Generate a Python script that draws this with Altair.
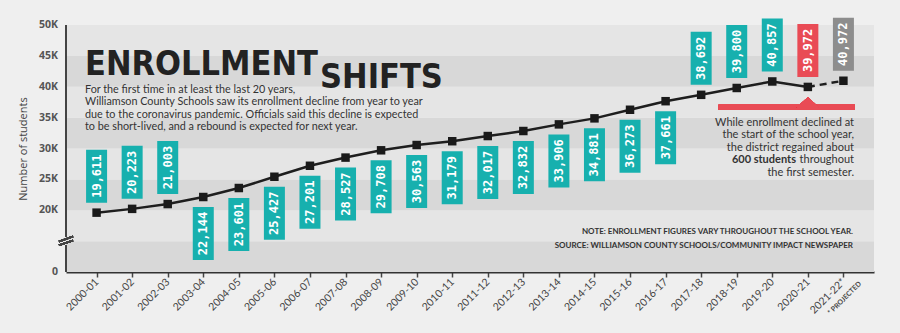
import altair as alt
import pandas as pd

years = ["2000-01", "2001-02", "2002-03", "2003-04", "2004-05", "2005-06", "2006-07",
         "2007-08", "2008-09", "2009-10", "2010-11", "2011-12", "2012-13", "2013-14",
         "2014-15", "2015-16", "2016-17", "2017-18", "2018-19", "2019-20", "2020-21",
         "2021-22*"]
enrollment = [19611, 20223, 21003, 22144, 23601, 25427, 27201, 28527, 29708, 30563,
              31179, 32017, 32832, 33906, 34881, 36273, 37661, 38692, 39800, 40857,
              39972, 40972]

y_tick_values = [10000, 20000, 25000, 30000, 35000, 40000, 45000, 50000]
y_tick_labels = ["0", "20K", "25K", "30K", "35K", "40K", "45K", "50K"]

band_lo = [10000, 15000, 20000, 25000, 30000, 35000, 40000, 45000]
band_hi = [15000, 20000, 25000, 30000, 35000, 40000, 45000, 50000]
band_shade = ["dark", "light", "dark", "light", "dark", "light", "dark", "light"]

title_1 = "ENROLLMENT"
title_2 = "SHIFTS"
intro = ["For the first time in at least the last 20 years,",
         "Williamson County Schools saw its enrollment decline from year to year",
         "due to the coronavirus pandemic. Officials said this decline is expected",
         "to be short-lived, and a rebound is expected for next year."]
annot = ["While enrollment declined at", "the start of the school year,",
         "the district regained about", "throughout", "the first semester."]
annot_bold = "600 students"
note = "NOTE: ENROLLMENT FIGURES VARY THROUGHOUT THE SCHOOL YEAR."
source = "SOURCE: WILLIAMSON COUNTY SCHOOLS/COMMUNITY IMPACT NEWSPAPER"
projected = "* PROJECTED"

df = pd.DataFrame({"year": years, "value": enrollment, "idx": list(range(len(years)))})
bands = pd.DataFrame({"lo": band_lo, "hi": band_hi, "shade": band_shade})
yticks = pd.DataFrame({"v": y_tick_values, "lab": y_tick_labels})

TEAL = "#17b0ae"
RED = "#e94b55"
GRAY = "#8d8d8d"
TXT = "#333333"
SANS = "Lato"

xscale = alt.Scale(type="point", domain=years, padding=0.86)
yscale = alt.Scale(domain=[10000, 50000], nice=False, zero=False)

base = alt.Chart(df)

x_axis = alt.Axis(labelAngle=-45, labelFont=SANS, labelFontSize=10.5,
                  labelColor="#444", domainColor="#333", domainWidth=2,
                  tickColor="#444", tickWidth=1.5, tickSize=5,
                  labelPadding=3, labelOverlap=False)
y_axis = alt.Axis(labels=False, domain=False, ticks=False, grid=False,
                  titleFont="Open Sans", titleFontSize=11,
                  titleFontWeight="normal", titleColor="#444",
                  titlePadding=38)

band_layer = alt.Chart(bands).mark_rect().encode(
    y=alt.Y("lo:Q", scale=yscale, axis=y_axis, title="Number of students"),
    y2="hi:Q",
    color=alt.Color("shade:N", scale=alt.Scale(domain=["dark", "light"],
                                               range=["#d8d8d8", "#e5e5e5"]), legend=None),
)

ylabels = alt.Chart(yticks).mark_text(font="Open Sans", fontWeight="bold", fontSize=10.5,
                                      color="#555", align="right", baseline="middle").encode(
    x=alt.value(-8), y=alt.Y("v:Q", scale=yscale, title="Number of students"), text="lab:N")

axis_upper = alt.Chart(df).mark_rule(color="#444", strokeWidth=2).encode(
    x=alt.value(0), y=alt.datum(15700, scale=yscale), y2=alt.datum(50000))
axis_lower = alt.Chart(df).mark_rule(color="#444", strokeWidth=2).encode(
    x=alt.value(0), y=alt.datum(10000, scale=yscale), y2=alt.datum(14300))
break_mark = alt.Chart(df).mark_point(
    shape="M-1,0.05L1,-0.65M-1,0.6L1,-0.1", size=196, filled=False,
    stroke="#444", strokeWidth=1.6, opacity=1).encode(
    x=alt.value(0), y=alt.datum(15000, scale=yscale))

red_bar = alt.Chart(df).mark_rule(color=RED, strokeWidth=5, xOffset=-18, x2Offset=11).encode(
    x=alt.datum("2018-19", scale=xscale), x2=alt.datum("2021-22*"),
    y=alt.datum(36700, scale=yscale))
red_tri = alt.Chart(df).mark_point(shape="M-1,0L0,-0.9L1,0Z", size=484, filled=True,
                                   color=RED, opacity=1).encode(
    x=alt.datum("2020-21", scale=xscale),
    y=alt.datum(36700, scale=yscale))

X = alt.X("year:O", scale=xscale, sort=years, title=None, axis=x_axis)
Y = alt.Y("value:Q", scale=yscale, title="Number of students")

line_solid = base.mark_line(color="#1e1e1e", strokeWidth=2.5).encode(
    x=X, y=Y).transform_filter("datum.idx <= 20")
line_dash = base.mark_line(color="#1e1e1e", strokeWidth=2.5, strokeDash=[7, 5]).encode(
    x=X, y=Y).transform_filter("datum.idx >= 20")
squares = base.mark_square(size=72, color="#1a1a1a", opacity=1).encode(x=X, y=Y)

fill_expr = ("datum.year == '2020-21' ? '" + RED + "' : (datum.year == '2021-22*' ? '"
             + GRAY + "' : '" + TEAL + "')")
above = "datum.idx <= 2 || datum.idx >= 17"
below = "datum.idx > 2 && datum.idx < 17"


def box_layer(cond, off):
    b = base.transform_filter(cond).transform_calculate(fillc=fill_expr)
    rect = b.mark_tick(orient="vertical", size=53, thickness=21, yOffset=off, opacity=1).encode(
        x=X, y=Y, color=alt.Color("fillc:N", scale=None))
    txt = b.mark_text(angle=270, font="DejaVu Sans Mono", fontWeight="bold", fontSize=12,
                      color="white", align="center", baseline="middle", yOffset=off).encode(
        x=X, y=Y, text=alt.Text("value:Q", format=","))
    return rect + txt


boxes_above = box_layer(above, -36.5)
boxes_below = box_layer(below, 36.5)

one = pd.DataFrame({"k": [0]})
TITLE_FONT = "DejaVu Sans Condensed"
t1 = alt.Chart(one).mark_text(text=title_1, font=TITLE_FONT, fontWeight="bold", fontSize=34,
                              color="#222", align="left", baseline="alphabetic").encode(
    x=alt.value(19), y=alt.value(50))
t2 = alt.Chart(one).mark_text(text=title_2, font=TITLE_FONT, fontWeight="bold", fontSize=34,
                              color="#222", align="left", baseline="alphabetic").encode(
    x=alt.value(254), y=alt.value(63))
para = alt.Chart(one).mark_text(text=intro, font=SANS, fontSize=10.8, color=TXT,
                                align="left", baseline="alphabetic", lineHeight=12.4).encode(
    x=alt.value(19), y=alt.value(68))
ann = alt.Chart(one).mark_text(text=annot, font=SANS, fontSize=11, color=TXT,
                               align="right", baseline="alphabetic", lineHeight=12.4).encode(
    x=alt.value(788), y=alt.value(101))
ann_b = alt.Chart(one).mark_text(text=annot_bold, font=SANS, fontSize=11, color=TXT,
                                 fontWeight="bold", align="right", baseline="alphabetic").encode(
    x=alt.value(730), y=alt.value(101 + 3 * 12.4))
note_t = alt.Chart(one).mark_text(text=[note, source], font=SANS, fontSize=8, fontWeight="bold",
                                  color=TXT, align="right", baseline="alphabetic",
                                  lineHeight=14).encode(
    x=alt.value(787), y=alt.value(209))
proj = alt.Chart(one).mark_text(text=projected, font=SANS, fontSize=7, fontWeight="bold",
                                color="#444", align="right", baseline="top", angle=315,
                                xOffset=14, yOffset=8).encode(
    x=alt.datum("2021-22*", scale=xscale), y=alt.value(247))

chart = alt.layer(
    band_layer, ylabels, axis_upper, axis_lower, break_mark, red_bar, red_tri,
    line_solid, line_dash, squares, boxes_above, boxes_below,
    t1, t2, para, ann, ann_b, note_t, proj
).properties(
    width=808, height=247,
    background="#efefef",
    padding={"left": 66, "top": 25, "right": 26, "bottom": 61},
    autosize=alt.AutoSizeParams(type="none"),
).configure_view(stroke=None).configure_axis(labelOverlap=False)

chart.save("out.html", embed_options={"renderer": "svg", "actions": False})
